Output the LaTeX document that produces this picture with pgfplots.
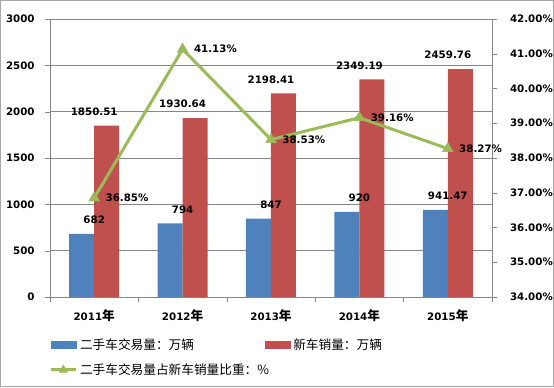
\documentclass[border=0pt]{standalone}
\usepackage{pgfplots}
\pgfplotsset{compat=1.18}
\usepackage{fontspec}
\setmainfont{DejaVu Sans}
\newfontfamily\cjk{Noto Sans CJK SC}
\definecolor{cblue}{HTML}{4F81BD}
\definecolor{cred}{HTML}{C0504D}
\definecolor{cgreen}{HTML}{9BBB59}
\definecolor{cgrid}{HTML}{868686}
\newcommand\yr[1]{\textbf{#1{\cjk\fontsize{9.5}{11}\selectfont 年}}}
\newcommand\lblfont{\bfseries\fontsize{7.7}{9}\selectfont}
\begin{document}
\begin{tikzpicture}
\path[use as bounding box] (-37.5pt,-67.5pt) rectangle (378pt,222.75pt);
\begin{axis}[
  scale only axis, width=331.5pt, height=208.5pt,
  at={(0pt,0pt)}, anchor=south west,
  xmin=-0.5, xmax=4.5, ymin=0, ymax=3000, ytick distance=500,
  xtick={0,...,4},
  xticklabels={\yr{2011},\yr{2012},\yr{2013},\yr{2014},\yr{2015}},
  minor xtick={-0.5,0.5,...,4.5},
  axis x line*=bottom, axis y line*=left, axis line style={cgrid,-},
  ymajorgrids, grid style={cgrid, line width=0.5pt},
  tick align=outside, major tick length=4pt, minor tick length=4pt,
  every major x tick/.append style={draw=none},
  tick style={cgrid},
  ticklabel style={font=\lblfont},
  xticklabel style={yshift=-2pt},
  yticklabel style={xshift=-4pt},
  /pgf/number format/assume math mode=true,
  /pgf/number format/1000 sep={},
]
\addplot[ybar, bar width=18.75pt, bar shift=-9.375pt, fill=cblue, draw=none,
  point meta=explicit symbolic, nodes near coords,
  nodes near coords style={font=\lblfont, anchor=south, yshift=4pt, text=black}]
  coordinates {(0,682)[682] (1,794)[794] (2,847)[847] (3,920)[920] (4,941.47)[941.47]};
\addplot[ybar, bar width=18.75pt, bar shift=9.375pt, fill=cred, draw=none,
  point meta=explicit symbolic, nodes near coords,
  nodes near coords style={font=\lblfont, anchor=south, yshift=4pt, text=black}]
  coordinates {(0,1850.51)[1850.51] (1,1930.64)[1930.64] (2,2198.41)[2198.41] (3,2349.19)[2349.19] (4,2459.76)[2459.76]};
\end{axis}
\begin{axis}[
  scale only axis, width=331.5pt, height=208.5pt,
  at={(0pt,0pt)}, anchor=south west,
  xmin=-0.5, xmax=4.5, ymin=34, ymax=42, ytick distance=1,
  axis x line=none, axis y line*=right, axis line style={cgrid,-},
  tick align=outside, major tick length=4pt, tick style={cgrid},
  ticklabel style={font=\lblfont},
  yticklabel style={xshift=6pt},
  /pgf/number format/assume math mode=true,
  yticklabel={\pgfmathprintnumber[fixed,fixed zerofill,precision=2]{\tick}\%},
  legend columns=2,
  legend cell align=left,
  legend style={at={(-0.011,-0.13)}, anchor=north west, draw=none, fill=none,
    font=\fontsize{9.5}{11}\selectfont\cjk, row sep=5pt,
    /tikz/every even column/.append style={column sep=-5pt}},
]
\addlegendimage{legend image code/.code={\fill[cblue] (0pt,-2.6pt) rectangle (18.75pt,2.6pt);}}
\addlegendentry{二手车交易量：万辆}
\addlegendimage{legend image code/.code={\fill[cred] (0pt,-2.6pt) rectangle (18.75pt,2.6pt);}}
\addlegendentry{新车销量：万辆}
\addplot[cgreen, line width=2.25pt, mark=triangle*, mark size=4.5pt,
  mark options={line width=0.5pt},
  point meta=explicit symbolic, nodes near coords,
  nodes near coords style={font=\lblfont, anchor=west, xshift=5pt, text=black},
  legend image code/.code={\draw[cgreen, line width=2.25pt] (0pt,0pt) -- (18.75pt,0pt); \draw[cgreen, fill=cgreen, line width=0.5pt] plot[mark=triangle*, mark size=3.5pt] coordinates {(9.375pt,0pt)};}]
  coordinates {(0,36.85)[36.85\%] (1,41.13)[41.13\%] (2,38.53)[38.53\%] (3,39.16)[39.16\%] (4,38.27)[38.27\%]};
\addlegendentry{二手车交易量占新车销量比重：\%}
\end{axis}
\draw[gray!70, line width=0.75pt] (-37.1pt,-67.1pt) rectangle (377.6pt,222.35pt);
\end{tikzpicture}
\end{document}
